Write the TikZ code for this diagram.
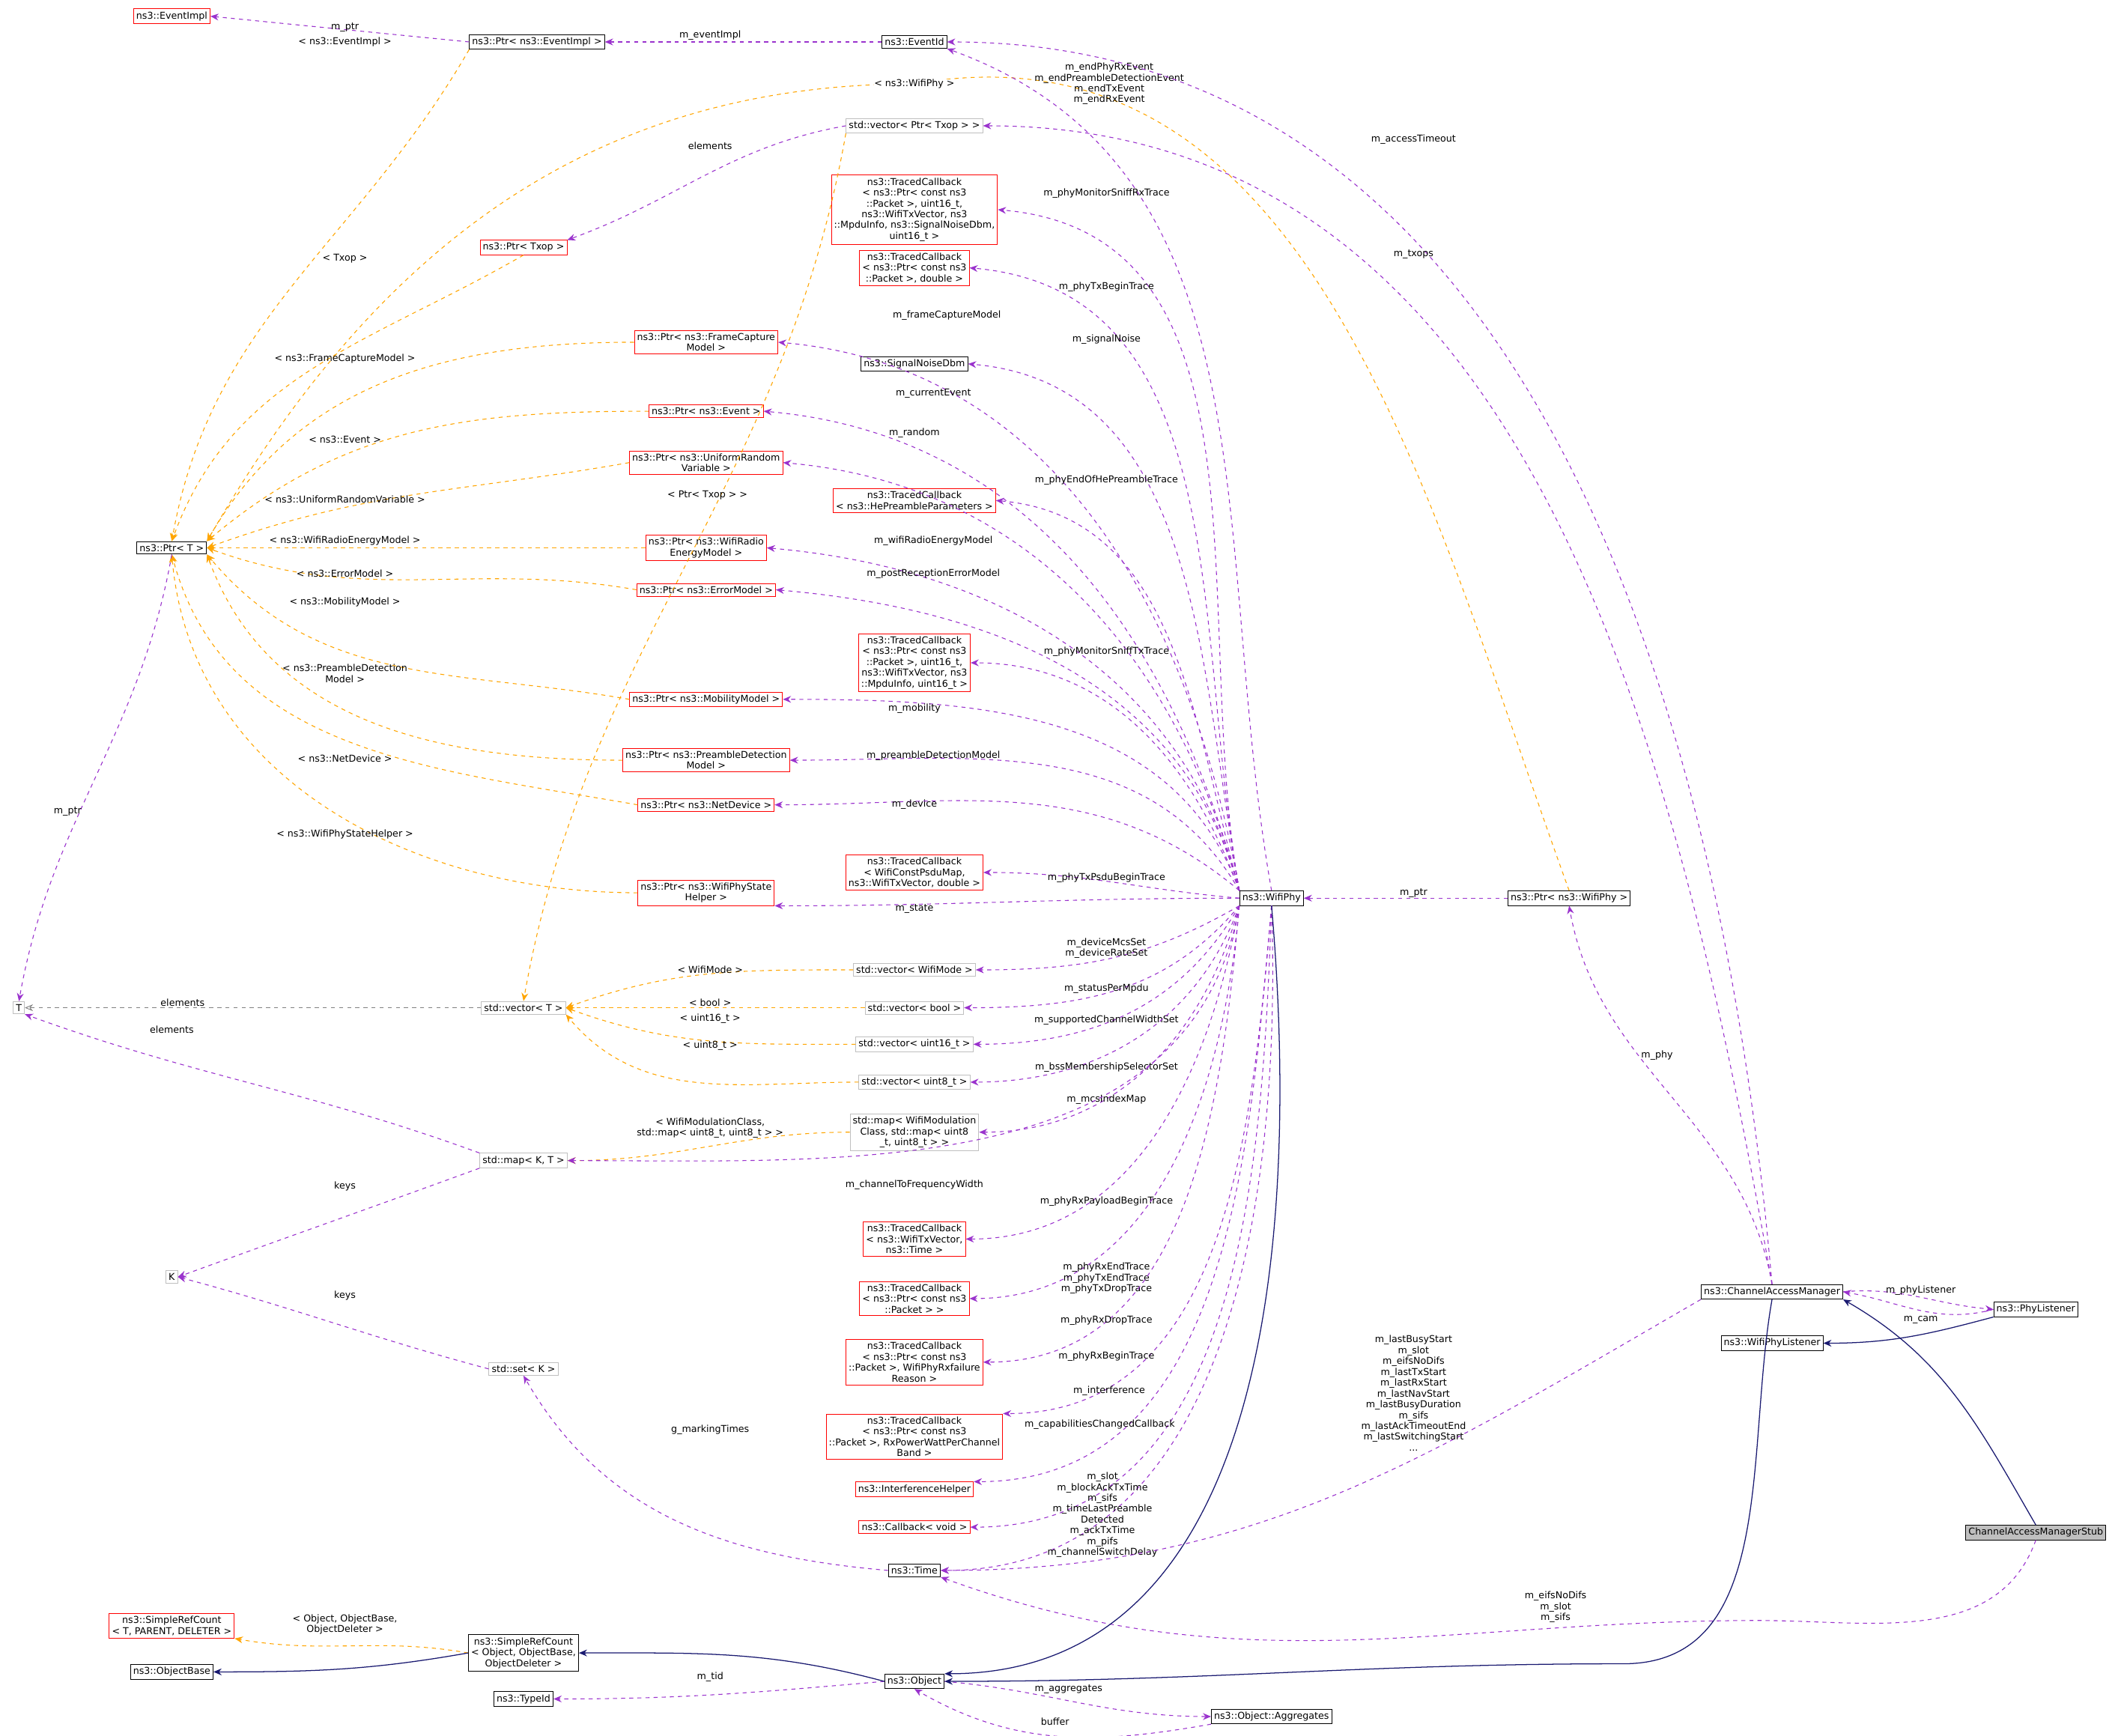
\documentclass[tikz,border=0pt]{standalone}
\usepackage{fontspec}
\setmainfont{DejaVu Sans}
\usetikzlibrary{arrows.meta}
\definecolor{pur}{HTML}{9A32CD}
\definecolor{org}{HTML}{FFA500}
\definecolor{nav}{HTML}{191970}
\tikzset{
 bx/.style={draw=black,rectangle,inner sep=2pt,align=center,line width=0.5pt,font=\fontsize{7}{8}\selectfont},
 rb/.style={bx,draw=red},
 gb/.style={bx,draw=black!25},
 mem/.style={pur,dashed,line width=0.6pt,-{Stealth[length=6pt,width=5pt]}},
 tpl/.style={org,dashed,line width=0.6pt,-{Stealth[length=6pt,width=5pt]}},
 inh/.style={nav,line width=0.7pt,-{Stealth[length=6pt,width=5pt]}},
 gr/.style={black!50,dashed,line width=0.5pt,-{Stealth[length=6pt,width=5pt,open]}},
 lb/.style={font=\fontsize{7}{8}\selectfont,align=center,inner sep=0pt},
}
\begin{document}
\begin{tikzpicture}[x=1pt,y=-1pt]
\useasboundingbox (0,0) rectangle (1568,1283);
% nodes
\node[rb] (ei) at (127,12) {ns3::EventImpl};
\node[bx] (pei) at (397,31) {ns3::Ptr< ns3::EventImpl >};
\node[bx] (eid) at (676,31) {ns3::EventId};
\node[gb] (vtx) at (676,93) {std::vector< Ptr< Txop > >};
\node[rb] (tc1) at (676,155) {ns3::TracedCallback\\< ns3::Ptr< const ns3\\::Packet >, uint16\_t,\\ ns3::WifiTxVector, ns3\\::MpduInfo, ns3::SignalNoiseDbm,\\ uint16\_t >};
\node[rb] (tc2) at (676,198) {ns3::TracedCallback\\< ns3::Ptr< const ns3\\::Packet >, double >};
\node[rb] (pfc) at (522,253) {ns3::Ptr< ns3::FrameCapture\\Model >};
\node[bx] (snd) at (676,269) {ns3::SignalNoiseDbm};
\node[rb] (pev) at (522,304) {ns3::Ptr< ns3::Event >};
\node[rb] (pur) at (522,342) {ns3::Ptr< ns3::UniformRandom\\Variable >};
\node[rb] (tch) at (676,370) {ns3::TracedCallback\\< ns3::HePreambleParameters >};
\node[rb] (pwr) at (522,405) {ns3::Ptr< ns3::WifiRadio\\EnergyModel >};
\node[rb] (pem) at (522,436) {ns3::Ptr< ns3::ErrorModel >};
\node[rb] (tc3) at (676,490) {ns3::TracedCallback\\< ns3::Ptr< const ns3\\::Packet >, uint16\_t,\\ ns3::WifiTxVector, ns3\\::MpduInfo, uint16\_t >};
\node[rb] (pmm) at (522,517) {ns3::Ptr< ns3::MobilityModel >};
\node[rb] (ppd) at (522,562) {ns3::Ptr< ns3::PreambleDetection\\Model >};
\node[rb] (pnd) at (522,595) {ns3::Ptr< ns3::NetDevice >};
\node[rb] (tcp) at (676,645) {ns3::TracedCallback\\< WifiConstPsduMap,\\ ns3::WifiTxVector, double >};
\node[rb] (psh) at (522,660) {ns3::Ptr< ns3::WifiPhyState\\Helper >};
\node[bx] (wp) at (940,664) {ns3::WifiPhy};
\node[gb] (vwm) at (676,717) {std::vector< WifiMode >};
\node[gb] (vb) at (676,745) {std::vector< bool >};
\node[gb] (v16) at (676,772) {std::vector< uint16\_t >};
\node[gb] (v8) at (676,800) {std::vector< uint8\_t >};
\node[gb] (mwm) at (676,837) {std::map< WifiModulation\\Class, std::map< uint8\\\_t, uint8\_t > >};
\node[rb] (tcv) at (676,916) {ns3::TracedCallback\\< ns3::WifiTxVector,\\ ns3::Time >};
\node[rb] (tcpk) at (676,960) {ns3::TracedCallback\\< ns3::Ptr< const ns3\\::Packet > >};
\node[rb] (tcf) at (676,1007) {ns3::TracedCallback\\< ns3::Ptr< const ns3\\::Packet >, WifiPhyRxfailure\\Reason >};
\node[rb] (tcr) at (676,1062) {ns3::TracedCallback\\< ns3::Ptr< const ns3\\::Packet >, RxPowerWattPerChannel\\Band >};
\node[rb] (ih) at (676,1101) {ns3::InterferenceHelper};
\node[rb] (cb) at (676,1129) {ns3::Callback< void >};
\node[bx] (tm) at (676,1161) {ns3::Time};
\node[bx] (ob) at (676,1243) {ns3::Object};
\node[bx] (tid) at (387,1256) {ns3::TypeId};
\node[bx] (agg) at (940,1269) {ns3::Object::Aggregates};
\node[bx] (src) at (387,1222) {ns3::SimpleRefCount\\< Object, ObjectBase,\\ ObjectDeleter >};
\node[rb] (srt) at (127,1202) {ns3::SimpleRefCount\\< T, PARENT, DELETER >};
\node[bx] (obb) at (127,1236) {ns3::ObjectBase};
\node[bx] (pt) at (127,405) {ns3::Ptr< T >};
\node[gb] (T) at (14,745) {T};
\node[gb] (vt) at (387,745) {std::vector< T >};
\node[gb] (mkt) at (387,858) {std::map< K, T >};
\node[gb] (K) at (127,944) {K};
\node[gb] (sk) at (387,1012) {std::set< K >};
\node[rb] (ptx) at (387,183) {ns3::Ptr< Txop >};
\node[bx] (pwp) at (1160,664) {ns3::Ptr< ns3::WifiPhy >};
\node[bx] (cam) at (1310,955) {ns3::ChannelAccessManager};
\node[bx] (pl) at (1505,968) {ns3::PhyListener};
\node[bx] (wpl) at (1310,993) {ns3::WifiPhyListener};
\node[bx,fill=black!25] (stub) at (1505,1133) {ChannelAccessManagerStub};
% template edges to Ptr<T>
\draw[tpl] (pei.south west) to[out=-120,in=80] (pt.north);
\draw[tpl] (ptx.south) to[out=-150,in=70] (pt.north);
\draw[tpl] (pwp.north) to[out=110,in=10] (676,62) to[out=180,in=60] (pt.north east);
\draw[tpl] (pfc.west) to[out=180,in=60] (pt.north east);
\draw[tpl] (pev.west) to[out=180,in=40] (pt.north east);
\draw[tpl] (pur.west) to[out=190,in=20] (pt.east);
\draw[tpl] (pwr.west) -- (pt.east);
\draw[tpl] (pem.west) to[out=170,in=-20] (pt.east);
\draw[tpl] (pmm.west) to[out=170,in=-50] (pt.south east);
\draw[tpl] (ppd.west) to[out=180,in=-70] (pt.south east);
\draw[tpl] (pnd.west) to[out=170,in=-75] (pt.south);
\draw[tpl] (psh.west) to[out=180,in=-85] (pt.south);
\draw[tpl] (vtx.south west) to[out=-100,in=80] (vt.north);
\draw[tpl] (vwm.west) to[out=180,in=20] (vt.east);
\draw[tpl] (vb.west) -- (vt.east);
\draw[tpl] (v16.west) to[out=180,in=-20] (vt.east);
\draw[tpl] (v8.west) to[out=180,in=-50] (vt.south east);
\draw[tpl] (mwm.west) to[out=180,in=0] (mkt.east);
\draw[tpl] (src.west) to[out=170,in=-10] (srt.south east);
% labels for templates
\node[lb] at (255,31) {< ns3::EventImpl >};
\node[lb] at (255,191) {< Txop >};
\node[lb] at (676,62) [fill=white] {< ns3::WifiPhy >};
\node[lb] at (255,265) {< ns3::FrameCaptureModel >};
\node[lb] at (255,325) {< ns3::Event >};
\node[lb] at (255,369) {< ns3::UniformRandomVariable >};
\node[lb] at (255,400) {< ns3::WifiRadioEnergyModel >};
\node[lb] at (255,424) {< ns3::ErrorModel >};
\node[lb] at (255,445) {< ns3::MobilityModel >};
\node[lb] at (255,498) {< ns3::PreambleDetection\\Model >};
\node[lb] at (255,561) {< ns3::NetDevice >};
\node[lb] at (255,617) {< ns3::WifiPhyStateHelper >};
\node[lb] at (523,366) {< Ptr< Txop > >};
\node[lb] at (525,717) {< WifiMode >};
\node[lb] at (525,741) {< bool >};
\node[lb] at (525,753) {< uint16\_t >};
\node[lb] at (525,773) {< uint8\_t >};
\node[lb] at (525,834) {< WifiModulationClass,\\std::map< uint8\_t, uint8\_t > >};
\node[lb] at (255,1201) {< Object, ObjectBase,\\ObjectDeleter >};
% member edges
\draw[mem] (pei.west) -- (ei.east);
\node[lb] at (255,20) {m\_ptr};
\draw[mem] (eid.west) -- (pei.east);
\node[lb] at (525,26) {m\_eventImpl};
\draw[mem] (wp.north) to[out=100,in=-20] (eid.south east);
\node[lb] at (820,62) {m\_endPhyRxEvent\\m\_endPreambleDetectionEvent\\m\_endTxEvent\\m\_endRxEvent};
\draw[mem] (cam.north) to[out=95,in=0] (eid.east);
\node[lb] at (1045,103) {m\_accessTimeout};
\draw[mem] (cam.north) to[out=100,in=0] (vtx.east);
\node[lb] at (1045,188) {m\_txops};
\draw[mem] (vtx.west) to[out=190,in=20] (ptx.north east);
\node[lb] at (525,108) {elements};
\draw[mem] (wp.north west) to[out=100,in=-5] (tc1.east);
\node[lb] at (818,143) {m\_phyMonitorSniffRxTrace};
\draw[mem] (wp.north west) to[out=100,in=-5] (tc2.east);
\node[lb] at (818,212) {m\_phyTxBeginTrace};
\draw[mem] (wp.north west) to[out=100,in=-5] (pfc.east);
\node[lb] at (700,233) {m\_frameCaptureModel};
\draw[mem] (wp.north west) to[out=100,in=-5] (snd.east);
\node[lb] at (818,251) {m\_signalNoise};
\draw[mem] (wp.north west) to[out=105,in=-5] (pev.east);
\node[lb] at (690,291) {m\_currentEvent};
\draw[mem] (wp.north west) to[out=105,in=-5] (pur.east);
\node[lb] at (676,320) {m\_random};
\draw[mem] (wp.north west) to[out=105,in=-5] (tch.east);
\node[lb] at (818,355) {m\_phyEndOfHePreambleTrace};
\draw[mem] (wp.north west) to[out=105,in=-5] (pwr.east);
\node[lb] at (690,400) {m\_wifiRadioEnergyModel};
\draw[mem] (wp.north west) to[out=105,in=-5] (pem.east);
\node[lb] at (690,424) {m\_postReceptionErrorModel};
\draw[mem] (wp.north west) to[out=110,in=0] (tc3.east);
\node[lb] at (818,482) {m\_phyMonitorSniffTxTrace};
\draw[mem] (wp.north west) to[out=110,in=0] (pmm.east);
\node[lb] at (676,524) {m\_mobility};
\draw[mem] (wp.north west) to[out=120,in=0] (ppd.east);
\node[lb] at (690,559) {m\_preambleDetectionModel};
\draw[mem] (wp.north west) to[out=140,in=0] (pnd.east);
\node[lb] at (676,595) {m\_device};
\draw[mem] (wp.west) to[out=175,in=0] (tcp.east);
\node[lb] at (818,649) {m\_phyTxPsduBeginTrace};
\draw[mem] (wp.west) to[out=180,in=0] (psh.south east);
\node[lb] at (676,672) {m\_state};
\draw[mem] (wp.south west) to[out=-150,in=0] (vwm.east);
\node[lb] at (818,701) {m\_deviceMcsSet\\m\_deviceRateSet};
\draw[mem] (wp.south west) to[out=-130,in=0] (vb.east);
\node[lb] at (818,731) {m\_statusPerMpdu};
\draw[mem] (wp.south west) to[out=-120,in=0] (v16.east);
\node[lb] at (818,754) {m\_supportedChannelWidthSet};
\draw[mem] (wp.south west) to[out=-110,in=0] (v8.east);
\node[lb] at (818,789) {m\_bssMembershipSelectorSet};
\draw[mem] (wp.south west) to[out=-105,in=0] (mwm.east);
\node[lb] at (818,813) {m\_mcsIndexMap};
\draw[mem] (wp.south west) to[out=-100,in=0] (mkt.east);
\node[lb] at (676,876) {m\_channelToFrequencyWidth};
\draw[mem] (wp.south west) to[out=-100,in=0] (tcv.east);
\node[lb] at (818,888) {m\_phyRxPayloadBeginTrace};
\draw[mem] (wp.south west) to[out=-95,in=0] (tcpk.east);
\node[lb] at (818,945) {m\_phyRxEndTrace\\m\_phyTxEndTrace\\m\_phyTxDropTrace};
\draw[mem] (wp.south west) to[out=-95,in=0] (tcf.east);
\node[lb] at (818,976) {m\_phyRxDropTrace};
\draw[mem] (wp.south) to[out=-95,in=0] (tcr.north east);
\node[lb] at (818,1003) {m\_phyRxBeginTrace};
\draw[mem] (wp.south) to[out=-95,in=0] (ih.north east);
\node[lb] at (820,1028) {m\_interference};
\draw[mem] (wp.south) to[out=-92,in=0] (cb.east);
\node[lb] at (813,1053) {m\_capabilitiesChangedCallback};
\draw[mem] (wp.south) to[out=-88,in=0] (tm.east);
\node[lb] at (815,1120) {m\_slot\\m\_blockAckTxTime\\m\_sifs\\m\_timeLastPreamble\\Detected\\m\_ackTxTime\\m\_pifs\\m\_channelSwitchDelay};
\draw[mem] (cam.south west) to[out=-150,in=0] (tm.east);
\node[lb] at (1045,1030) {m\_lastBusyStart\\m\_slot\\m\_eifsNoDifs\\m\_lastTxStart\\m\_lastRxStart\\m\_lastNavStart\\m\_lastBusyDuration\\m\_sifs\\m\_lastAckTimeoutEnd\\m\_lastSwitchingStart\\...};
\draw[mem] (stub.south) to[out=-110,in=0] (1300,1198) to[out=180,in=-20] (tm.south east);
\node[lb] at (1150,1188) {m\_eifsNoDifs\\m\_slot\\m\_sifs};
\draw[mem] (cam.north) to[out=100,in=-80] (pwp.south);
\node[lb] at (1225,780) {m\_phy};
\draw[mem] (pwp.west) -- (wp.east);
\node[lb] at (1045,660) {m\_ptr};
\draw[mem] (cam.east) to[out=5,in=175] (pl.west);
\node[lb] at (1420,954) {m\_phyListener};
\draw[mem] (pl.west) to[out=-165,in=-10] (cam.east);
\node[lb] at (1420,976) {m\_cam};
\draw[mem] (pt.south) to[out=-100,in=80] (T.north);
\node[lb] at (50,600) {m\_ptr};
\draw[gr] (vt.west) -- (T.east);
\node[lb] at (135,741) {elements};
\draw[mem] (mkt.north west) to[out=160,in=-20] (T.south east);
\node[lb] at (127,761) {elements};
\draw[mem] (mkt.south west) to[out=-160,in=20] (K.east);
\node[lb] at (255,877) {keys};
\draw[mem] (sk.west) to[out=165,in=-15] (K.east);
\node[lb] at (255,958) {keys};
\draw[mem] (tm.west) to[out=175,in=-60] (sk.south);
\node[lb] at (525,1057) {g\_markingTimes};
\draw[mem] (ob.west) to[out=185,in=0] (tid.east);
\node[lb] at (525,1240) {m\_tid};
\draw[mem] (ob.east) to[out=-5,in=180] (agg.west);
\node[lb] at (790,1249) {m\_aggregates};
\draw[mem] (agg.south west) to[out=-170,in=-30] (ob.south);
\node[lb] at (780,1273) {buffer};
% inheritance
\draw[inh] (wp.south) to[out=-85,in=0] (ob.north east);
\draw[inh] (cam.south) to[out=-100,in=0] (1200,1230) to[out=180,in=0] (ob.east);
\draw[inh] (pl.south west) to[out=-165,in=0] (wpl.east);
\draw[inh] (stub.north) to[out=120,in=-30] (cam.south east);
\draw[inh] (ob.west) to[out=165,in=0] (src.east);
\draw[inh] (src.west) to[out=-170,in=0] (obb.east);
\end{tikzpicture}
\end{document}
